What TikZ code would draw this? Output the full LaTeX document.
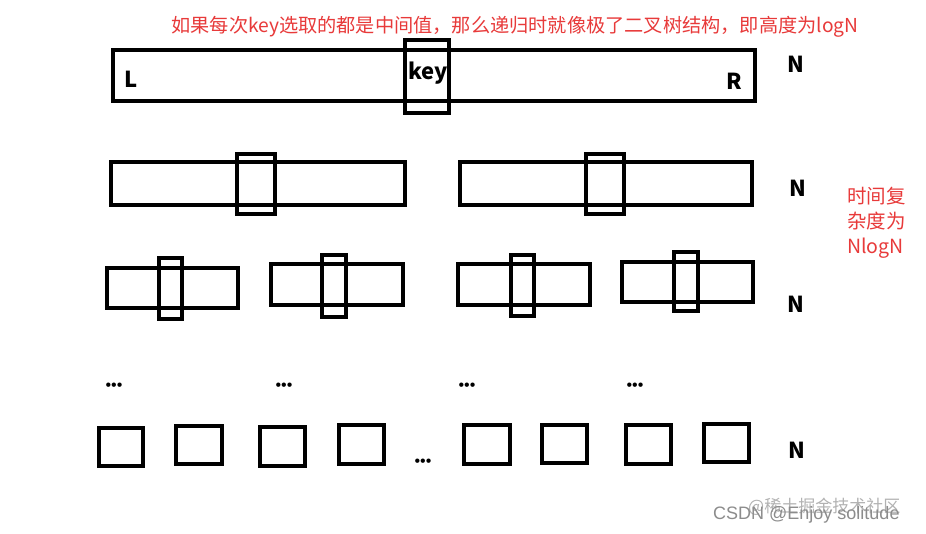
\documentclass[tikz,border=0pt]{standalone}
\usepackage{fontspec}
\setmainfont{Liberation Sans}
\newfontfamily\cjk{Noto Sans CJK SC}
\definecolor{myred}{RGB}{232,58,58}
\tikzset{
  box/.style={draw=black, line width=4pt},
  keybox/.style={draw=black, line width=3.5pt},
  lbl/.style={font=\cjk\bfseries\fontsize{22}{24}\selectfont, inner sep=0pt},
  dots/.style={font=\fontsize{16}{16}\selectfont, inner sep=0pt},
  redtxt/.style={text=myred, inner sep=0pt},
}
\begin{document}
\begin{tikzpicture}[x=1pt,y=-1pt]
\useasboundingbox (0,0) rectangle (926,534);
\fill[white] (0,0) rectangle (926,534);
% title
\node[redtxt, font=\cjk\fontsize{19.2}{21}\selectfont] (title) at (515,27) {如果每次key选取的都是中间值，那么递归时就像极了二叉树结构，即高度为logN};
% row 1
\draw[box] (113,50) rectangle (755,101);
\draw[keybox] (405,40) rectangle (449,113);
\node[lbl] (L) at (131,79) {L};
\node[lbl] (key) at (428,73) {key};
\node[lbl] (R) at (734,81) {R};
\node[lbl] (N1) at (796,64) {N};
% row 2
\draw[box] (111,162) rectangle (405,205);
\draw[keybox] (237,154) rectangle (275,214);
\draw[box] (460,162) rectangle (752,205);
\draw[keybox] (586,154) rectangle (624,214);
\node[lbl] (N2) at (798,188) {N};
% side text
\node[redtxt, font=\cjk\fontsize{19.5}{25}\selectfont, align=left, anchor=north west] (side) at (847,187) {时间复\\杂度为\\NlogN};
% row 3
\draw[box] (107,268) rectangle (238,308);
\draw[keybox] (159,258) rectangle (182,319);
\draw[box] (271,264) rectangle (403,305);
\draw[keybox] (322,255) rectangle (346,317);
\draw[box] (458,264) rectangle (590,305);
\draw[keybox] (511,255) rectangle (534,316);
\draw[box] (622,262) rectangle (753,302);
\draw[keybox] (674,252) rectangle (698,311);
\node[lbl] (N3) at (796,304) {N};
% dots
\node[dots] (d1) at (114,387) {•••};
\node[dots] (d2) at (284,387) {•••};
\node[dots] (d3) at (467,387) {•••};
\node[dots] (d4) at (635,387) {•••};
\node[dots] (d5) at (423,463) {•••};
% row 5
\draw[box] (99,428) rectangle (143,466);
\draw[box] (176,426) rectangle (222,464);
\draw[box] (260,427) rectangle (305,466);
\draw[box] (339,425) rectangle (384,464);
\draw[box] (464,425) rectangle (510,464);
\draw[box] (542,425) rectangle (587,463);
\draw[box] (626,425) rectangle (671,464);
\draw[box] (704,424) rectangle (749,462);
\node[lbl] (N5) at (797,450) {N};
% watermark
\node[text=black!30, font=\cjk\fontsize{17}{17}\selectfont, inner sep=0pt, anchor=west] (wm1) at (748,507) {@稀土掘金技术社区};
\node[text=black!45, font=\fontsize{18}{18}\selectfont, inner sep=0pt, anchor=west] (wm2) at (713,515) {CSDN @Enjoy solitude};
\end{tikzpicture}
\end{document}
